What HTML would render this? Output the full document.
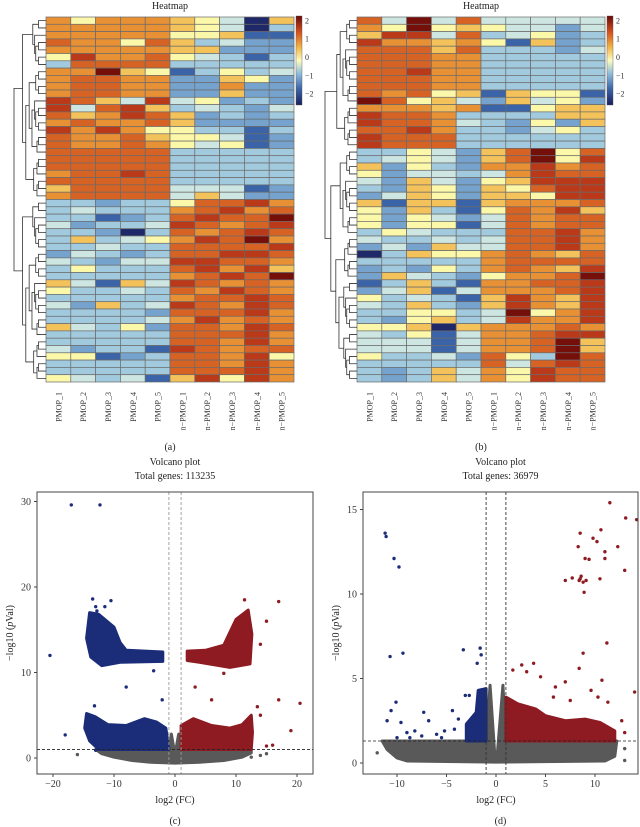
<!DOCTYPE html>
<html><head><meta charset="utf-8"><style>
body{margin:0;background:#fff}
svg{display:block;font-family:"Liberation Serif",serif}
</style></head><body>
<svg id="fig" width="640" height="827" viewBox="0 0 640 827" xmlns="http://www.w3.org/2000/svg">
<defs>
<linearGradient id="cb" x1="0" y1="1" x2="0" y2="0">
<stop offset="0" stop-color="#1a1f5e"/><stop offset="0.18" stop-color="#3b64a8"/><stop offset="0.35" stop-color="#8cbcdc"/><stop offset="0.5" stop-color="#fcfcc0"/><stop offset="0.65" stop-color="#f2b446"/><stop offset="0.82" stop-color="#d4501e"/><stop offset="1" stop-color="#6a0808"/>
</linearGradient>
</defs>
<g id="root"></g>
</svg>
<script>
// ---------- Heatmap data ----------
const heatCols = ["PMOP_1","PMOP_2","PMOP_3","PMOP_4","PMOP_5","n−PMOP_1","n−PMOP_2","n−PMOP_3","n−PMOP_4","n−PMOP_5"];
const levelValues = {a:-2.4,b:-1.8,c:-1.3,d:-0.9,e:-0.5,f:0,g:0.4,h:0.8,i:1.2,j:1.6,k:2.2};
const heatA = ["hfhhhgfeag","hhhhhgfead","hhhhhffgbb","ihhfigdecc","hhhhhggccc","fjhhifedbd","diiiiddddd","hhkgfbdfde","hiihhccgfc","hiihhcchcc","hiihhccgcc","jigejefcdc","jeijgdedce","ighjigcdcd","hihhigcccc","jhjhffddbd","ihhigffebc","ihhihfefbc","iiiiiddddd","iiiiiddddd","iiiiiddddd","hiijiddddd","iiiiiddddd","giiiieeebc","hiiiiegecc",
"ddcddfiijh","dedddhijhi","ddbcdijiik","ecddejihij","ddcadihiji","dgdefhjikh","ddeddiiiij","cedcdiijji","edceejjiih","dfdddijhjg","dddddhijik","gebgejihih","fddedihjih","dddddhiiji","ecgdejihji","ddddciiijh","ddddehjhih","gedfciihji","dddddiiijh","dddddiihjh","ecddbjihii","ffbcdiihjf","dddddiihjh","dddddiiijh","fedebgjfjh"];
const heatB = ["ieke ieeeee".replace(" ",""),"hfkfgfeece","gjjeidefcd","jhhghfbgcd","iiigidddce","iiihhddddd","iiihhddddd","iijhhddddd","iiihhddddd","iiihhddddd","ihifgbgffb","kifgecgefc","hhhghbbfgg","jiihddddg".padEnd(10,"g"),"jiihedcfcg","iijhddcefd","jiiidddddd","jiiidddddd","ddfecgikfi","defecgikfj","gcfdchhjhi","fceedehjii","ecgecfgjjj","dcgfcgfijj","cegfcggfjj",
"gbggbghhhi","fcgdbfihjg","fcfeceihii","fcffbeihii","dfedddiijh","eddedeiijh","cecgeeiijh","adgffhihgi","dddddhiiii","cdcfdhihgj","cgedcfhhik","bdgdbhhiij","cegbehhhij","fdedbgjhgj","edgdcgjhgj","ddffdekfhj","dcfgdejhhj","ffgaghhhih","edfbehhijj","eeebehhikg","eeebehhikg","fddecifdki","dddddieiji","dcdgehfjii","dcdgehfjii"];
const splitA = 25, splitB = 18;
const cbTicks = [2,1,0,-1,-2];

// ---------- Volcano (c) data ----------
const cXTicks = [-20,-10,0,10,20], cYTicks = [0,10,20,30];
const cGrayCloud = [[-13,1],[-12,0.5],[-10,0.1],[-7,-0.3],[-4,-0.5],[0,-0.6],[4,-0.5],[8,-0.3],[11,0.1],[12.5,0.6],[12.5,1],[1,1],[0.6,2.8],[0,0.4],[-0.6,2.8],[-1,1]];
const cBlueLow = [[-14.5,5.2],[-13,4.8],[-11,3.9],[-8,3.8],[-5,4.6],[-3,4.2],[-1.5,3.5],[-1,1],[-12.5,1],[-14,2],[-14.8,3.5]];
const cRedLow = [[1,1],[1,3.8],[3,4.6],[6,3.8],[9,3.5],[11,3.9],[12.5,5],[12.7,3],[12.5,1]];
const cBlueHigh = [[-14,17],[-12.5,16.8],[-10,15.3],[-9,13.5],[-8,12.6],[-2,12.4],[-2,11.3],[-9,11.2],[-12,10.8],[-13.8,11.8],[-14.5,14]];
const cRedHigh = [[2,12.5],[5,12.6],[8,13.2],[10,16.2],[12,17.3],[12.6,14.5],[12.3,11],[9,10.6],[4,11.2],[2,11.4]];
const cBluePts = [[-17,29.6],[-12.3,29.6],[-13.5,18.6],[-10.5,18.4],[-13,17.7],[-11.5,17.7],[-12.8,17.2],[-20.5,12],[-13.3,12],[-18,2.7],[-8,8.3],[-13.2,6.1],[-2.1,6.8],[-3.5,10.2],[-13,0.9]];
const cRedPts = [[11.4,18.5],[17,18.3],[15,16],[14,13.3],[17,6.8],[20.5,6.4],[19,3.2],[3.3,8.3],[6,6.8],[14,5],[15,1.4],[16,1.5],[8,9.9],[13.5,6]];
const cGrayPts = [[-16,0.4],[14,0.3],[15,0.5],[12.5,0.1]];

// ---------- Volcano (d) data ----------
const dXTicks = [-10,-5,0,5,10,15], dYTicks = [0,5,10,15];
const dGrayCloud = [[-11.5,1.3],[-11,0.8],[-10,0.3],[-9,0.12],[0,0.05],[11,0.12],[12,0.4],[12.2,1.3],[1,1.3],[0.7,4.6],[0.1,0.3],[-0.1,0.3],[-0.6,4.6],[-1,1.3]];
const dBlueCloud = [[-3,1.3],[-3,2.3],[-2,3],[-1.8,4.3],[-1,4.4],[-1,1.3]];
const dRedCloud = [[1,1.3],[1,3.9],[2.2,3.5],[4,3.2],[5,2.8],[7,2.5],[9,2.6],[10.5,2.4],[12,1.9],[12,1.3]];
const dBluePts = [[-11.2,13.6],[-11.1,13.4],[-10.3,12.1],[-9.8,11.6],[-10.7,6.3],[-9.4,6.5],[-3.3,6.7],[-1.6,6.8],[-1.5,6.4],[-1.9,5.9],[-10.1,3.6],[-11,2.5],[-10.6,3.1],[-9.6,2.4],[-7.3,3],[-6.8,2.5],[-4.4,3.1],[-3.1,4],[-2.7,4],[-3.8,2.6],[-9,1.8],[-8.2,1.9],[-7.5,1.6],[-6,1.7],[-5.2,1.9],[-4.2,2],[-10,1.5],[-8.7,1.5],[-5.5,1.5]];
const dRedPts = [[11.5,15.4],[13.1,14.5],[14.2,14.4],[10.6,13.8],[8.5,13.6],[9.8,13.3],[10.2,13.1],[8.3,12.8],[12.3,12.8],[11,12.5],[9,12.1],[9.4,12.05],[11,12.1],[13,11.4],[10.5,10.9],[7,10.8],[7.7,10.95],[8.5,10.9],[8.6,11.05],[8.4,10.8],[8.8,10.7],[9.1,10.8],[8.9,10.1],[11.2,7.1],[8.8,6.5],[8.4,5.6],[1.7,5.5],[2.6,5.8],[3.1,5.4],[3.8,5.9],[4.5,5.1],[7,4.8],[10.7,4.9],[6,4.5],[9.6,4.3],[14,4.2],[5.8,3.9],[12.7,2.5],[13,1.8],[7.5,3.7],[10.3,3.9],[11.3,3.6]];
const dGrayPts = [[-12,0.6],[13,0.85],[13,0.15]];

const NS = "http://www.w3.org/2000/svg";
const root = document.getElementById("root");
function mk(tag, attrs, parent, text){
  const e = document.createElementNS(NS, tag);
  for (const k in attrs) e.setAttribute(k, attrs[k]);
  if (text !== undefined) e.textContent = text;
  (parent || root).appendChild(e);
  return e;
}
const stops = [[-2.5,[26,31,94]],[-1.8,[59,100,168]],[-1.1,[140,188,220]],[-0.5,[205,230,225]],[0,[252,248,170]],[0.5,[242,180,70]],[1,[226,120,40]],[1.5,[196,64,28]],[2.3,[106,8,8]]];
function colorOf(v){
  if (v <= stops[0][0]) return "rgb("+stops[0][1]+")";
  for (let i=1;i<stops.length;i++){
    if (v <= stops[i][0]){
      const t=(v-stops[i-1][0])/(stops[i][0]-stops[i-1][0]);
      const c=stops[i-1][1].map((a,j)=>Math.round(a+(stops[i][1][j]-a)*t));
      return "rgb("+c.join(",")+")";
    }
  }
  return "rgb("+stops[stops.length-1][1]+")";
}

function heatmap(rows, gx, split, title, cbx, caption, key){
  const g = mk("g", {});
  
  
  const gy=17, gw=248, gh=365, nR=rows.length, nC=heatCols.length;
  const cw=gw/nC, ch=gh/nR;
  const t = mk("text",{x:gx+gw/2,y:9,"text-anchor":"middle","font-size":"10",fill:"#222"},g,title);
  
  
  rows.forEach((r,i)=>{
    for (let j=0;j<nC;j++){
      const v = levelValues[r[j]];
      const c = mk("rect",{x:gx+j*cw,y:gy+i*ch,width:cw,height:ch,fill:colorOf(v),stroke:"#6b6b6b","stroke-width":"0.7"},g);
      
      
    }
  });
  heatCols.forEach((n,j)=>{
    const cx=gx+(j+0.5)*cw+3;
    const l = mk("text",{x:cx,y:392,"text-anchor":"end","font-size":"8",fill:"#333",transform:"rotate(-90 "+cx+" 392)"},g,n);
    
    
  });
  // colorbar
  const cb = mk("rect",{x:cbx,y:16,width:6,height:89,fill:"url(#cb)",stroke:"#555","stroke-width":"0.4"},g);
  
  
  cbTicks.forEach(v=>{
    const y = 57 - v*18.3;
    const tl = mk("text",{x:cbx+9,y:y+3,"font-size":"8",fill:"#333"},g,v<0?"−"+(-v):String(v));
    
    
  });
  // dendrogram
  const dg = mk("g",{stroke:"#333","stroke-width":"0.8",fill:"none"},g);
  
  
  const rootX = gx-32;
  function build(lo,hi,x){
    if (hi-lo===1) return {y:gy+(lo+0.5)*ch, x:gx};
    let m = (lo===0 && hi===nR) ? split : lo+Math.max(1,Math.floor((hi-lo)*((lo*7+hi*3)%5+3)/10));
    if (m>=hi) m=hi-1;
    const sz = hi-lo;
    const cx = gx - (gx-rootX)*Math.pow(sz/nR,0.45);
    const a = build(lo,m,cx), b = build(m,hi,cx);
    mk("path",{d:"M"+a.x+" "+a.y+"H"+cx+"V"+b.y+"H"+b.x},dg);
    return {y:(a.y+b.y)/2, x:cx};
  }
  const r = build(0,nR,rootX);
  const cap = mk("text",{x:gx+gw/2,y:450,"text-anchor":"middle","font-size":"10",fill:"#222"},g,caption);
  
  
}
heatmap(heatA,46,splitA,"Heatmap",296,"(a)","heatmap-a");
heatmap(heatB,357,splitB,"Heatmap",607,"(b)","heatmap-b");

function volcano(o){
  const g = mk("g",{});
  
  
  const X = v=>o.x0+o.sx*v, Y = v=>o.y0-o.sy*v;
  const pg = mk("g",{},g);
  function poly(pts,fill,name){
    const p = mk("polygon",{points:pts.map(p=>X(p[0])+","+Y(p[1])).join(" "),fill:fill,stroke:fill,"stroke-width":"3","stroke-linejoin":"round"},pg);
    
    
  }
  function dots(pts,fill,name){
    pts.forEach(q=>{
      const c = mk("circle",{cx:X(q[0]),cy:Y(q[1]),r:1.7,fill:fill},pg);
      
      
    });
  }
  const gray="#595959", blue="#1b2c78", red="#8e1b22";
  o.polys.forEach(p=>poly(p[0],p[1]==="g"?gray:p[1]==="b"?blue:red,p[2]));
  dots(o.gp,gray,"point-ns"); dots(o.bp,blue,"point-down"); dots(o.rp,red,"point-up");
  // threshold lines
  const th = mk("line",{x1:o.bx,x2:o.bx+o.bw,y1:Y(o.thr),y2:Y(o.thr),stroke:"#222","stroke-width":"0.8","stroke-dasharray":"3,2"},g);
  
  
  [-1,1].forEach(v=>{
    const l = mk("line",{x1:X(v),x2:X(v),y1:o.by,y2:o.by+o.bh,stroke:o.vcol,"stroke-width":"0.9","stroke-dasharray":"3,2"},g);
    
    
  });
  const box = mk("rect",{x:o.bx,y:o.by,width:o.bw,height:o.bh,fill:"none",stroke:"#444","stroke-width":"1"},g);
  
  
  o.xt.forEach(v=>{
    mk("line",{x1:X(v),x2:X(v),y1:o.by+o.bh,y2:o.by+o.bh+3,stroke:"#444"},g);
    const t = mk("text",{x:X(v),y:o.by+o.bh+13,"text-anchor":"middle","font-size":"10",fill:"#333"},g,v<0?"−"+(-v):String(v));
    
    
  });
  o.yt.forEach(v=>{
    mk("line",{x1:o.bx-3,x2:o.bx,y1:Y(v),y2:Y(v),stroke:"#444"},g);
    const t = mk("text",{x:o.bx-6,y:Y(v)+3.5,"text-anchor":"end","font-size":"10",fill:"#333"},g,String(v));
    
    
  });
  const cx = o.bx+o.bw/2;
  const t1 = mk("text",{x:cx,y:465,"text-anchor":"middle","font-size":"10",fill:"#222"},g,"Volcano plot");
  
  
  const t2 = mk("text",{x:cx,y:479,"text-anchor":"middle","font-size":"10",fill:"#222"},g,"Total genes: "+o.total);
  
  
  const xl = mk("text",{x:(X(0)),y:803,"text-anchor":"middle","font-size":"10",fill:"#222"},g,"log2 (FC)");
  
  
  const yx=o.bx-24, yy=o.by+o.bh/2;
  const yl = mk("text",{x:yx,y:yy,"text-anchor":"middle","font-size":"10",fill:"#222",transform:"rotate(-90 "+yx+" "+yy+")"},g);
  
  
  mk("tspan",{},yl,"−log10 (");
  mk("tspan",{"font-style":"italic"},yl,"p");
  mk("tspan",{},yl,"Val)");
  const cap = mk("text",{x:cx,y:824,"text-anchor":"middle","font-size":"10",fill:"#222"},g,o.cap);
  
  
}
volcano({key:"volcano-c",x0:175,sx:6.1,y0:758,sy:8.55,bx:37,by:492,bw:276,bh:282,thr:1,vcol:"#999",
  xt:cXTicks,yt:cYTicks,total:"113235",cap:"(c)",
  polys:[[cGrayCloud,"g","cloud-ns"],[cBlueLow,"b","cloud-down"],[cRedLow,"r","cloud-up"],[cBlueHigh,"b","cloud-down-high"],[cRedHigh,"r","cloud-up-high"]],
  gp:cGrayPts,bp:cBluePts,rp:cRedPts});
volcano({key:"volcano-d",x0:496,sx:9.9,y0:763,sy:16.9,bx:363,by:492,bw:275,bh:282,thr:1.3,vcol:"#333",
  xt:dXTicks,yt:dYTicks,total:"36979",cap:"(d)",
  polys:[[dGrayCloud,"g","cloud-ns"],[dBlueCloud,"b","cloud-down"],[dRedCloud,"r","cloud-up"]],
  gp:dGrayPts,bp:dBluePts,rp:dRedPts});
</script>
</body></html>
